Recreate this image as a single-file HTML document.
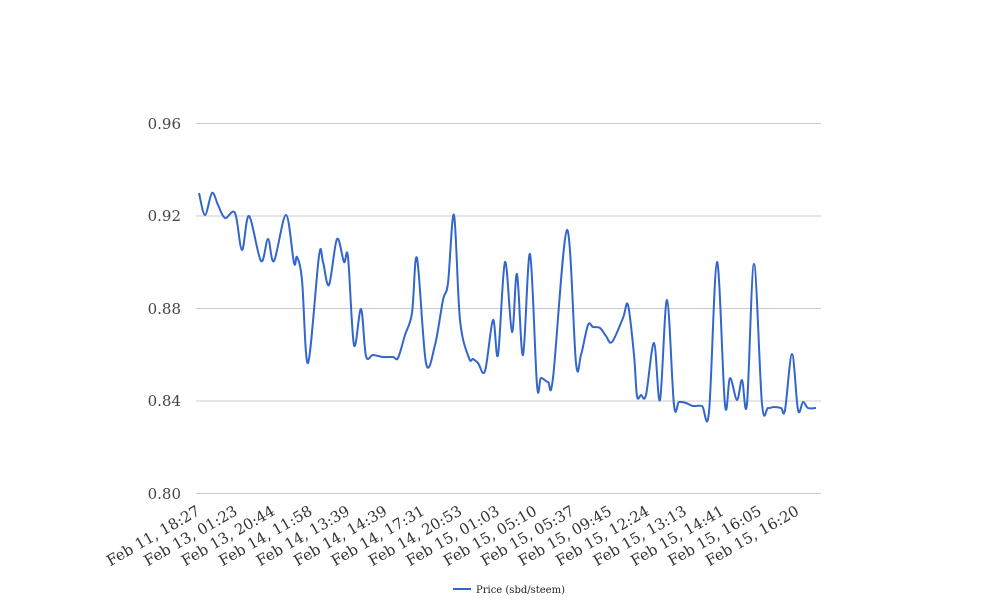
<!DOCTYPE html>
<html><head><meta charset="utf-8"><style>
html,body{margin:0;padding:0;background:#fff;}
svg{display:block;font-family:"DejaVu Serif",serif;}
</style></head><body>
<svg id="s" width="1008" height="616" viewBox="0 0 1008 616">
<g stroke="#cccccc" stroke-width="1">
<line x1="196" x2="821" y1="123.5" y2="123.5"/>
<line x1="196" x2="821" y1="216" y2="216"/>
<line x1="196" x2="821" y1="308.5" y2="308.5"/>
<line x1="196" x2="821" y1="401" y2="401"/>
<line x1="196" x2="821" y1="493.5" y2="493.5"/>
</g>
<g fill="#444" font-size="15" text-anchor="end">
<text x="181" y="129">0.96</text>
<text x="181" y="221">0.92</text>
<text x="181" y="314">0.88</text>
<text x="181" y="406">0.84</text>
<text x="181" y="499">0.80</text>
</g>
<g id="xl" fill="#333" font-size="15" text-anchor="end"></g>
<path id="ln" fill="none" stroke="#3366cc" stroke-width="2" stroke-linejoin="round"/>
<line x1="453" x2="471" y1="589" y2="589" stroke="#3366cc" stroke-width="2"/>
<text x="476" y="593" font-size="10" fill="#222">Price (sbd/steem)</text>
</svg>
<script>
var labels=["Feb 11, 18:27","Feb 13, 01:23","Feb 13, 20:44","Feb 14, 11:58","Feb 14, 13:39","Feb 14, 14:39","Feb 14, 17:31","Feb 14, 20:53","Feb 15, 01:03","Feb 15, 05:10","Feb 15, 05:37","Feb 15, 09:45","Feb 15, 12:24","Feb 15, 13:13","Feb 15, 14:41","Feb 15, 16:05","Feb 15, 16:20"];
var g=document.getElementById('xl'),h='';
var n=labels.length;
for(var i=0;i<n;i++){var x=201+i*(800-201)/(n-1),y=514;
h+='<text transform="translate('+x+','+y+') rotate(-30)">'+labels[i]+'</text>';}
g.innerHTML=h;
var p=[[199,193],[205,215],[212,193],[218,205],[225,218],[235,213],[242,250],[249,216],[261,261],[268,239],[274,261],[286,215],[294,263],[297,257],[302,280],[308,363],[319,256],[323,262],[329,285],[337,239],[344,262],[348,257],[354,345],[361,309],[366,356],[373,355],[383,357],[393,357],[398,358],[405,335],[412,313],[417,258],[426,363],[435,345],[443,300],[448,283],[454,215],[460,320],[469,358],[473,359],[478,363],[485,371],[493,320],[498,355],[505,262],[512,332],[517,274],[523,355],[530,254],[537,385],[541,378],[548,382],[553,378],[567,230],[576,363],[581,355],[588,325],[593,327],[600,328],[606,336],[612,342],[623,318],[628,305],[634,355],[637,396],[641,395],[646,395],[654,343],[660,400],[667,300],[674,405],[679,402],[686,403],[693,406],[702,406],[709,412],[717,262],[725,405],[730,378],[737,400],[742,380],[747,404],[754,264],[762,404],[768,408],[774,407],[781,408],[785,410],[792,354],[798,410],[803,402],[808,408],[816,408]];
var d='M'+p[0][0]+','+p[0][1];
for(var i=0;i<p.length-1;i++){var p0=p[i-1]||p[i],p1=p[i],p2=p[i+1],p3=p[i+2]||p2;
var c1x=p1[0]+(p2[0]-p0[0])/6,c1y=p1[1]+(p2[1]-p0[1])/6,c2x=p2[0]-(p3[0]-p1[0])/6,c2y=p2[1]-(p3[1]-p1[1])/6;
d+=' C'+c1x+','+c1y+' '+c2x+','+c2y+' '+p2[0]+','+p2[1];}
document.getElementById('ln').setAttribute('d',d);
</script>
</body></html>
